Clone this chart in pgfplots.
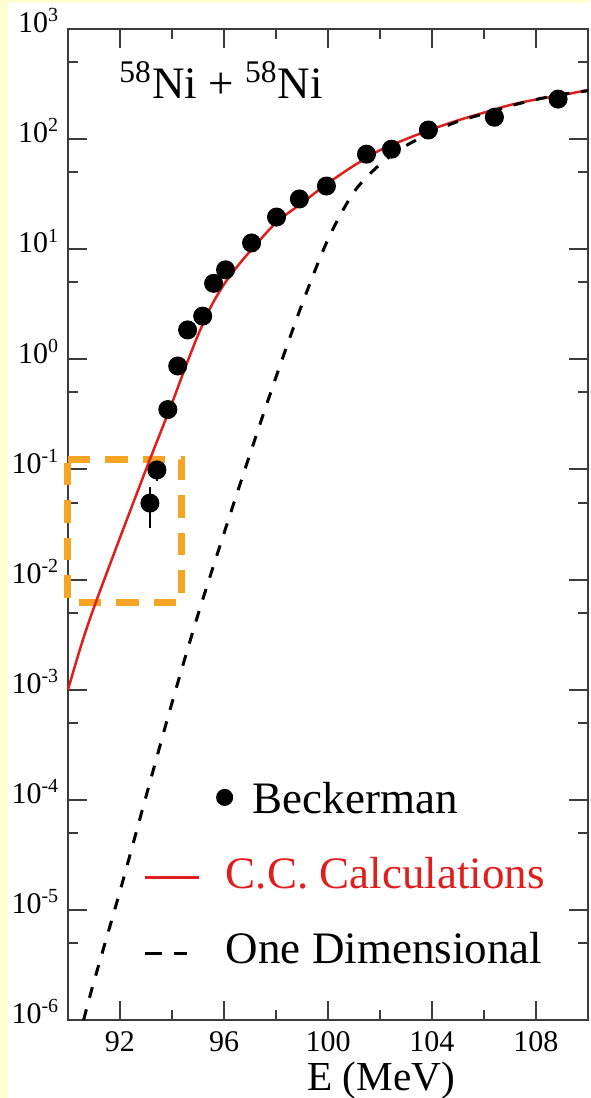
\documentclass[border=0pt]{standalone}
\usepackage{fontspec}
\setmainfont{Liberation Serif}
\usepackage{pgfplots}
\pgfplotsset{compat=1.18}

\definecolor{ccred}{RGB}{225,30,30}
\definecolor{boxorange}{RGB}{245,165,35}
\definecolor{paleyellow}{RGB}{255,255,210}
\definecolor{axisgray}{RGB}{60,60,60}

\begin{document}
\begin{tikzpicture}
\path[use as bounding box] (-27.2pt,-31.2pt) rectangle (208.8pt,408pt);
\fill[paleyellow] (-27.2pt,-31.2pt) rectangle (208.8pt,408pt);
\fill[white] (-24pt,-31.2pt) rectangle (208.8pt,406.8pt);
\begin{axis}[
    at={(0,0)}, anchor=south west,
    scale only axis, width=208pt, height=396.4pt,
    xmin=90, xmax=110,
    ymode=log, ymin=1e-6, ymax=1e3,
    clip=false,
    axis line style={axisgray, line width=0.8pt},
    every tick/.style={axisgray, line width=0.8pt},
    tick align=inside,
    xtick pos=both, ytick pos=both,
    major tick length=7.6pt, minor tick length=4pt,
    xtick={92,96,100,104,108},
    minor xtick={94,98,102,106},
    ytick={1e-6,1e-5,1e-4,1e-3,1e-2,1e-1,1,10,100,1000},
    minor ytick={5e-6,5e-5,5e-4,5e-3,5e-2,0.5,5,50,500},
    yticklabels={10\textsuperscript{-6},10\textsuperscript{-5},10\textsuperscript{-4},
                 10\textsuperscript{-3},10\textsuperscript{-2},10\textsuperscript{-1},
                 10\textsuperscript{0},10\textsuperscript{1},10\textsuperscript{2},
                 10\textsuperscript{3}},
    xticklabels={92,96,100,104,108},
    tick label style={font=\fontsize{12}{13}\selectfont},
    xticklabel style={anchor=north, inner sep=0pt, yshift=-4.4pt},
    yticklabel style={anchor=base east, inner sep=0pt, xshift=-3.2pt, yshift=-1.5pt},
    xlabel={E (MeV)},
    xlabel style={font=\fontsize{16.5}{18}\selectfont, at={(0.602,0)}, anchor=north,
                  inner sep=0pt, yshift=-16.6pt},
    legend style={draw=none, fill=none, at={(0.144,0.0575)}, anchor=south west,
                  inner sep=0pt, outer sep=0pt, row sep=17.5pt, column sep=10.4pt,
                  font=\fontsize{18}{20}\selectfont,
                  nodes={inner sep=0pt, text height=12.5pt, text depth=0pt}},
    legend cell align=left,
]

% legend samples
\addlegendimage{legend image code/.code={\fill[black,overlay] (32pt,0pt) circle (3.2pt);}}
\addlegendentry{\hspace{10.8pt}Beckerman}
\addlegendimage{legend image code/.code={\draw[ccred, line width=1pt] (0pt,-2pt) -- (21.6pt,-2pt);}}
\addlegendentry{\textcolor{ccred}{C.C. Calculations}}
\addlegendimage{legend image code/.code={\draw[black, line width=1.4pt] (0pt,-2.4pt) -- (6.8pt,-2.4pt) (11.6pt,-2.4pt) -- (16.8pt,-2.4pt);}}
\addlegendentry{One Dimensional}

% highlighted region
\addplot[boxorange, line width=2.8pt, dash pattern=on 9pt off 6pt, forget plot]
coordinates {(90,0.124)(94.38,0.124)(94.38,0.00625)(90,0.00625)(90,0.124)};

% coupled channels
\addplot[ccred, line width=1pt, smooth, forget plot] coordinates {
(90,1.0e-3)(90.5,2.5e-3)(91,5.6e-3)(92,0.024)(93,0.1)(93.5,0.2)(94,0.4)
(94.5,0.83)(95,1.66)(95.5,3.02)(96,4.79)(96.5,6.92)(97,9.55)(98,17.4)
(99,26.3)(100,39.8)(101,57.5)(102,79.4)(103,100)(104,123)(105,148)
(106,174)(107,204)(108,229)(109,251)(110,279)
};

% one dimensional
\addplot[black, line width=1.2pt, dash pattern=on 4.4pt off 4.8pt, smooth, forget plot] coordinates {
(90.6,1.0e-6)(91,2.24e-6)(92,1.48e-5)(93,1.07e-4)(94,7.6e-4)(95,4.8e-3)
(96,0.0263)(97,0.138)(98,0.69)(99,3.16)(100,12.3)(101,33.1)(102,58.9)
(103,87.1)(104,115)(105,145)(106,170)(107,200)(108,229)(109,255)(110,275)
};

% Beckerman data
\addplot[only marks, mark=*, mark size=3.6pt, black, forget plot,
         error bars/.cd, y dir=both, y explicit,
         error bar style={line width=0.8pt}, error mark=none]
coordinates {
(93.15,0.0495) +- (0,0.02)
(93.42,0.099)  +- (0,0.02)
(93.84,0.35)   +- (0,0)
(94.22,0.87)   +- (0,0)
(94.6,1.85)    +- (0,0)
(95.18,2.47)   +- (0,0)
(95.6,4.9)     +- (0,0)
(96.06,6.5)    +- (0,0)
(97.06,11.4)   +- (0,0)
(98.02,19.6)   +- (0,0)
(98.9,28.6)    +- (0,0)
(99.94,37.5)   +- (0,0)
(101.48,73)    +- (0,0)
(102.44,81)    +- (0,0)
(103.86,121)   +- (0,0)
(106.4,158)    +- (0,0)
(108.85,231)   +- (0,0)
};

\node[anchor=base west, inner sep=0pt, font=\fontsize{18}{20}\selectfont]
  at (rel axis cs:0.098,0.930) {\textsuperscript{58}Ni + \textsuperscript{58}Ni};
\end{axis}
\end{tikzpicture}
\end{document}
